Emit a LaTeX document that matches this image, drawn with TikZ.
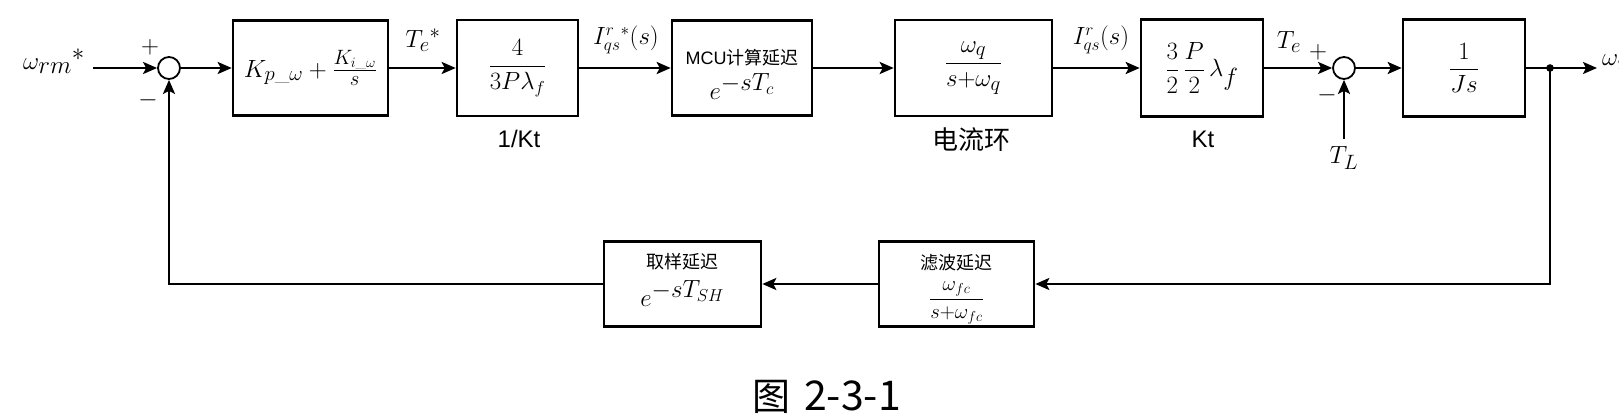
\documentclass[tikz,border=0pt]{standalone}
\usepackage{amsmath}
\usepackage{fontspec}
\setsansfont{Liberation Sans}
\newfontfamily\cjk{Noto Sans CJK SC}
\usetikzlibrary{arrows.meta}
\tikzset{
  blk/.style={draw, line width=2.6pt, rectangle, inner sep=0pt, align=center},
  sumj/.style={draw, line width=1.8pt, circle, minimum size=22pt, inner sep=0pt},
  conn/.style={line width=2.3pt},
  arr/.style={line width=2.3pt, -{Stealth[length=14pt,width=12pt,inset=3pt]}},
  lbl/.style={inner sep=0pt, font=\fontsize{30}{34}\selectfont},
  sanslbl/.style={inner sep=0pt, font=\sffamily\fontsize{24}{28}\selectfont},
  cjklbl/.style={inner sep=0pt, font=\cjk\fontsize{18}{20}\selectfont},
}
\begin{document}
\begin{tikzpicture}[x=1pt,y=-1pt]
\useasboundingbox (0,0) rectangle (1619,419);
% main path blocks
\node[blk, font=\fontsize{30}{34}\selectfont, minimum width=155pt, minimum height=95pt] (b1) at (310.5,68)
  {$K_{p\_\omega}+\frac{K_{i\_\omega}}{s}$};
\node[blk, font=\fontsize{26}{30}\selectfont, minimum width=121pt, minimum height=96pt] (b2) at (517.5,68)
  {$\dfrac{4}{3P\lambda_f}$};
\node[blk, minimum width=140pt, minimum height=95pt] (b3) at (742,68) {};
\node[cjklbl, font=\sffamily\fontsize{18}{20}\selectfont] (b3t) at (742,58) {MCU{\cjk 计算延迟}};
\node[inner sep=0pt, font=\fontsize{36}{38}\selectfont, anchor=base] (b3m) at (742,100) {$e^{-sT_c}$};
\node[blk, font=\fontsize{30}{34}\selectfont, minimum width=157pt, minimum height=96pt] (b4) at (973.5,68)
  {$\dfrac{\omega_q}{s{+}\omega_q}$};
\node[blk, font=\fontsize{26}{30}\selectfont, minimum width=122pt, minimum height=97pt] (b5) at (1202,68)
  {$\dfrac{3}{2}\,\dfrac{P}{2}\,${\fontsize{34}{36}\selectfont$\lambda_f$}};
\node[blk, font=\fontsize{28}{32}\selectfont, minimum width=122pt, minimum height=97pt] (b6) at (1464,68)
  {$\dfrac{1}{Js}$};
% feedback blocks
\node[blk, minimum width=155pt, minimum height=85pt] (flt) at (956.5,284) {};
\node[cjklbl] (fltt) at (956.5,263) {滤波延迟};
\node[inner sep=0pt, font=\fontsize{22}{24}\selectfont] (fltm) at (956.5,303) {$\dfrac{\omega_{fc}}{s{+}\omega_{fc}}$};
\node[blk, minimum width=157pt, minimum height=85pt] (smp) at (682.5,284) {};
\node[cjklbl] (smpt) at (682.5,262) {取样延迟};
\node[inner sep=0pt, font=\fontsize{35}{37}\selectfont, anchor=base] (smpm) at (682.5,307) {$e^{-sT_{SH}}$};
% summing junctions
\node[sumj] (s1) at (169,68) {};
\node[sumj] (s2) at (1344,68) {};
\coordinate (in) at (93,68);
\coordinate (br) at (1550,68);
\coordinate (out) at (1597,68);
\coordinate (tl) at (1344,139);
% connectors
\draw[arr] (in) -- (s1);
\draw[arr] (s1) -- (b1);
\draw[arr] (b1) -- (b2);
\draw[arr] (b2) -- (b3);
\draw[arr] (b3) -- (b4);
\draw[arr] (b4) -- (b5);
\draw[arr] (b5) -- (s2);
\draw[arr] (s2) -- (b6);
\draw[conn] (b6) -- (br);
\draw[arr] (br) -- (out);
\fill (br) circle (3.8pt);
\draw[arr] (br) |- (flt.east);
\draw[arr] (flt) -- (smp);
\draw[arr] (smp.west) -| (s1.south);
\draw[arr] (tl) -- (s2.south);
% labels
\node[lbl, font=\fontsize{34}{38}\selectfont] (lin) at (54,61) {$\omega_{rm}{}^{*}$};
\node[lbl, font=\fontsize{28}{32}\selectfont] (p1) at (150,47) {$+$};
\node[lbl, font=\fontsize{28}{32}\selectfont] (m1) at (148,100) {$-$};
\node[lbl, font=\fontsize{32}{36}\selectfont] (lte) at (423,40) {$T_e{}^{*}$};
\node[lbl, font=\fontsize{25}{28}\selectfont] (liqs) at (626,40) {$I_{qs}^{r}{}^{*}(s)$};
\node[sanslbl] (kinv) at (519,139) {1/Kt};
\node[inner sep=0pt, font=\cjk\fontsize{26}{30}\selectfont] (lcur) at (971,140) {电流环};
\node[lbl, font=\fontsize{25}{28}\selectfont] (liq) at (1101,40) {$I_{qs}^{r}(s)$};
\node[sanslbl] (kt) at (1203,139) {Kt};
\node[lbl] (lte2) at (1289,42) {$T_e$};
\node[lbl, font=\fontsize{28}{32}\selectfont] (p2) at (1318,52) {$+$};
\node[lbl, font=\fontsize{28}{32}\selectfont] (m2) at (1327,95) {$-$};
\node[lbl] (ltl) at (1344,158) {$T_L$};
\node[lbl, font=\fontsize{32}{36}\selectfont, anchor=west] (lout) at (1602,62) {$\omega_{rm}$};
\node[inner sep=0pt, anchor=base west, font=\cjk\fontsize{38}{42}\selectfont] (cap) at (752,410) {图\hspace{14pt}{\fontsize{41}{44}\selectfont 2-3-1}};
\end{tikzpicture}
\end{document}
